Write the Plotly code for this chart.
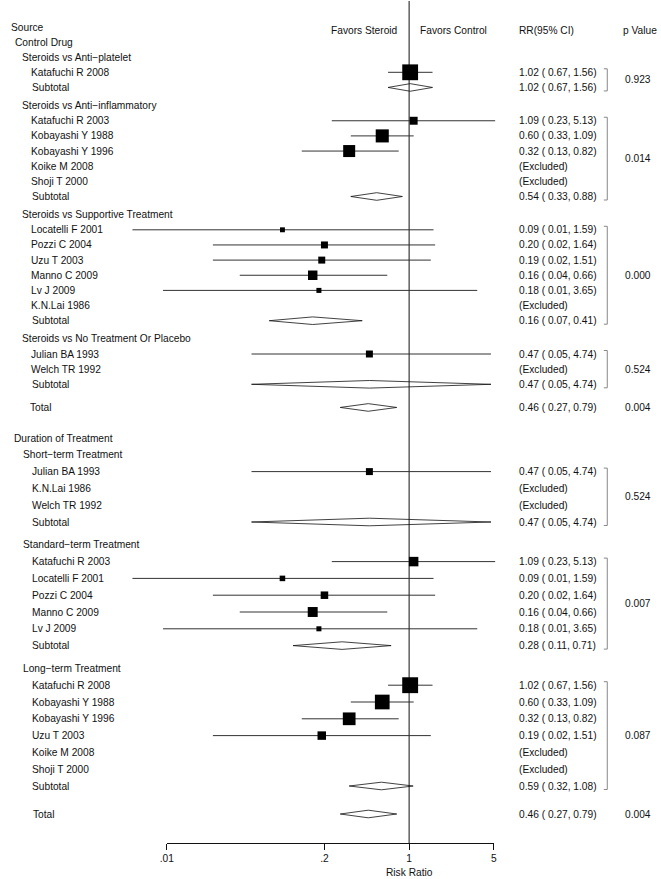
import math
import plotly.graph_objects as go

# ---------------- data ----------------
M = "\u2212"

# Panel 1: by control drug
p1_title = "Control Drug"
p1_groups = ["Steroids vs Anti" + M + "platelet", "Steroids vs Anti" + M + "inflammatory",
             "Steroids vs Supportive Treatment", "Steroids vs No Treatment Or Placebo"]
p1_studies = [
    ["Katafuchi R 2008"],
    ["Katafuchi R 2003", "Kobayashi Y 1988", "Kobayashi Y 1996", "Koike M 2008", "Shoji T 2000"],
    ["Locatelli F 2001", "Pozzi C 2004", "Uzu T 2003", "Manno C 2009", "Lv J 2009", "K.N.Lai 1986"],
    ["Julian BA 1993", "Welch TR 1992"],
]
p1_rr = [[1.02], [1.09, 0.60, 0.32, None, None], [0.09, 0.20, 0.19, 0.16, 0.18, None], [0.47, None]]
p1_lo = [[0.67], [0.23, 0.33, 0.13, None, None], [0.0052, 0.024, 0.024, 0.04, 0.0093, None], [0.05, None]]
p1_hi = [[1.56], [5.13, 1.09, 0.82, None, None], [1.59, 1.64, 1.51, 0.66, 3.65, None], [4.74, None]]
p1_weight = [[27.8], [7.0, 19.0, 16.0, None, None], [2.7, 5.4, 5.4, 10.0, 2.8, None], [5.4, None]]
p1_sub_rr = [1.02, 0.54, 0.16, 0.47]
p1_sub_lo = [0.67, 0.33, 0.07, 0.05]
p1_sub_hi = [1.56, 0.88, 0.41, 4.74]
p1_sub_p = ["0.923", "0.014", "0.000", "0.524"]
p1_total = [0.46, 0.27, 0.79]
p1_total_p = "0.004"

# Panel 2: by duration of treatment
p2_title = "Duration of Treatment"
p2_groups = ["Short" + M + "term Treatment", "Standard" + M + "term Treatment", "Long" + M + "term Treatment"]
p2_studies = [
    ["Julian BA 1993", "K.N.Lai 1986", "Welch TR 1992"],
    ["Katafuchi R 2003", "Locatelli F 2001", "Pozzi C 2004", "Manno C 2009", "Lv J 2009"],
    ["Katafuchi R 2008", "Kobayashi Y 1988", "Kobayashi Y 1996", "Uzu T 2003", "Koike M 2008", "Shoji T 2000"],
]
p2_rr = [[0.47, None, None], [1.09, 0.09, 0.20, 0.16, 0.18], [1.02, 0.60, 0.32, 0.19, None, None]]
p2_lo = [[0.05, None, None], [0.23, 0.0052, 0.024, 0.04, 0.0093], [0.67, 0.33, 0.13, 0.024, None, None]]
p2_hi = [[4.74, None, None], [5.13, 1.59, 1.64, 0.66, 3.65], [1.56, 1.09, 0.82, 1.51, None, None]]
p2_weight = [[5.4, None, None], [10.0, 3.4, 6.3, 11.0, 2.8], [28.0, 24.0, 18.0, 8.0, None, None]]
p2_sub_rr = [0.47, 0.28, 0.59]
p2_sub_lo = [0.05, 0.11, 0.32]
p2_sub_hi = [4.74, 0.71, 1.08]
p2_sub_p = ["0.524", "0.007", "0.087"]
p2_total = [0.46, 0.27, 0.79]
p2_total_p = "0.004"

x_tick_vals = [0.01, 0.2, 1, 5]
x_tick_text = [".01", ".2", "1", "5"]

# ---------------- layout helpers ----------------
W, H = 661, 879
X_ONE, DEC = 408.3, 123.0            # pixel of RR=1 and pixels per decade
X_LEFT_LOG = (0 - X_ONE) / DEC
X_RIGHT_LOG = (W - X_ONE) / DEC
CLIP_MIN = 10 ** ((127 - X_ONE) / DEC)  # left end of drawable CI lines
AXIS_Y = 843
FONT = "Liberation Sans, Arial, sans-serif"
FS = 10.2
RR_PX, P_PX = 519, 626
BR_X0, BR_X1 = 606, 609.5
LINE_C = "#333333"

annotations, shapes, traces = [], [], []


def text(px, y, s, anchor="left", size=FS):
    annotations.append(dict(x=px / W, xref="paper", y=y, yref="y", text=s, showarrow=False,
                            xanchor=anchor, yanchor="middle", borderpad=0,
                            font=dict(family=FONT, size=size, color="#111111")))


def fmt(r, l, h):
    return f"{r:.2f} ( {l:.2f}, {h:.2f})"


def diamond(r, l, h, y, hh=3.8):
    traces.append(go.Scatter(x=[l, r, h, r, l], y=[y, y - hh, y, y + hh, y], mode="lines",
                             fill="toself", fillcolor="white",
                             line=dict(color="#111111", width=0.8), hoverinfo="skip"))


ci_x, ci_y = [], []
sq_x, sq_y, sq_s = [], [], []
arr_x, arr_y = [], []


def build_panel(y0, step, sub_gap, total_gap, title, groups, studies, rr, lo, hi, wt,
                srr, slo, shi, sp, tot, totp, px_title, px_group, px_study, px_sub, px_total):
    y = y0
    text(px_title, y, title)
    for g in range(len(groups)):
        y += step
        text(px_group, y, groups[g])
        first = y + step
        for i, name in enumerate(studies[g]):
            y += step
            text(px_study, y, name)
            if rr[g][i] is None:
                text(RR_PX, y, "(Excluded)")
                continue
            l = lo[g][i]
            if l < CLIP_MIN:
                arr_x.append(CLIP_MIN)
                arr_y.append(y)
                l = CLIP_MIN
            ci_x.extend([l, hi[g][i], None])
            ci_y.extend([y, y, None])
            sq_x.append(rr[g][i])
            sq_y.append(y)
            sq_s.append(3.0 * math.sqrt(wt[g][i]))
            text(RR_PX, y, fmt(rr[g][i], lo[g][i], hi[g][i]))
        y += step
        text(px_sub, y, "Subtotal")
        diamond(srr[g], slo[g], shi[g], y)
        text(RR_PX, y, fmt(srr[g], slo[g], shi[g]))
        top, bot = first - 3.5, y + 3.5
        shapes.append(dict(type="path", xref="paper", yref="y",
                           path=f"M {BR_X0 / W},{top} L {BR_X1 / W},{top} L {BR_X1 / W},{bot} L {BR_X0 / W},{bot}",
                           line=dict(color="#888888", width=1)))
        text(P_PX, (top + bot) / 2, sp[g])
        y += sub_gap
    y += step + total_gap
    text(px_total, y, "Total")
    diamond(tot[0], tot[1], tot[2], y)
    text(RR_PX, y, fmt(*tot))
    text(P_PX, y, totp)


build_panel(42, 15.15, 3, 5, p1_title, p1_groups, p1_studies, p1_rr, p1_lo, p1_hi, p1_weight,
            p1_sub_rr, p1_sub_lo, p1_sub_hi, p1_sub_p, p1_total, p1_total_p, 7, 14, 23, 24, 22)
build_panel(438, 16.8, 6, 5.2, p2_title, p2_groups, p2_studies, p2_rr, p2_lo, p2_hi, p2_weight,
            p2_sub_rr, p2_sub_lo, p2_sub_hi, p2_sub_p, p2_total, p2_total_p, 6, 15, 24, 24, 25)

# header
text(3, 27, "Source")
text(398, 30, "Favors Steroid", anchor="right")
text(418, 30, "Favors Control")
text(RR_PX, 30, "RR(95% CI)")
text(624, 30, "p Value")
annotations.append(dict(x=X_ONE / W, xref="paper", y=872, yref="y", text="Risk Ratio", showarrow=False,
                        xanchor="center", yanchor="middle", borderpad=0,
                        font=dict(family=FONT, size=FS, color="#111111")))

# null line
traces.append(go.Scatter(x=[1, 1], y=[1, AXIS_Y], mode="lines", line=dict(color="#111111", width=1),
                         hoverinfo="skip"))
traces.append(go.Scatter(x=ci_x, y=ci_y, mode="lines", line=dict(color=LINE_C, width=1), hoverinfo="skip"))
traces.append(go.Scatter(x=arr_x, y=arr_y, mode="markers",
                         marker=dict(symbol="triangle-left", size=5, color=LINE_C), hoverinfo="skip"))
traces.append(go.Scatter(x=sq_x, y=sq_y, mode="markers",
                         marker=dict(symbol="square", size=sq_s, color="#000000", opacity=1, line=dict(width=0)),
                         hoverinfo="skip"))
# dummy trace for the tick axis
traces.append(go.Scatter(x=[1], y=[0.5], xaxis="x2", yaxis="y2", mode="markers",
                         marker=dict(opacity=0), hoverinfo="skip"))

fig = go.Figure(data=traces)
fig.update_layout(
    width=W, height=H, margin=dict(l=0, r=0, t=0, b=0),
    paper_bgcolor="white", plot_bgcolor="rgba(0,0,0,0)", showlegend=False,
    xaxis=dict(type="log", range=[X_LEFT_LOG, X_RIGHT_LOG], domain=[0, 1], visible=False, fixedrange=True),
    yaxis=dict(range=[H, 0], domain=[0, 1], visible=False, fixedrange=True),
    xaxis2=dict(type="log", range=[-2, math.log10(5)],
                domain=[(X_ONE - 2 * DEC) / W, (X_ONE + math.log10(5) * DEC) / W],
                anchor="y2", showline=True, linecolor="#111111", linewidth=1, ticks="outside", ticklen=6,
                tickcolor="#111111", tickvals=x_tick_vals, ticktext=x_tick_text, showgrid=False, zeroline=False,
                tickfont=dict(family=FONT, size=FS, color="#111111"), fixedrange=True),
    yaxis2=dict(domain=[1 - AXIS_Y / H, 1 - (AXIS_Y - 1) / H], range=[0, 1], visible=False, fixedrange=True),
    annotations=annotations, shapes=shapes,
)
fig.write_html("out.html", config={"displayModeBar": False},
               post_script="document.body.style.margin='0px';document.documentElement.style.overflow='hidden';")
